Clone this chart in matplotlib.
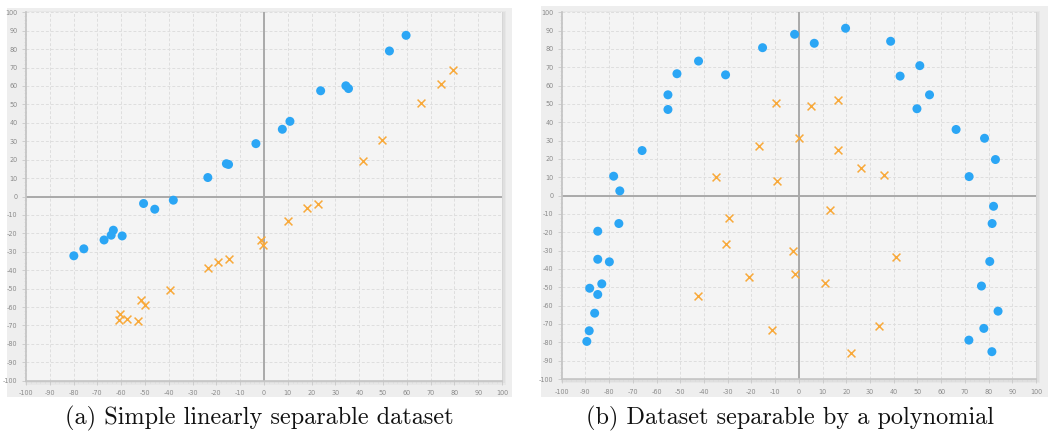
import matplotlib
matplotlib.use("Agg")
import matplotlib.pyplot as plt
from matplotlib.patches import Rectangle
import numpy as np

# ---------------- data ----------------
a_blue_x = [59.7, 52.7, 23.8, 34.4, 35.5, 7.7, 10.9, -3.4, -15.8, -14.9, -23.6, -38.1,
            -50.6, -45.9, -63.3, -64.2, -59.6, -67.2, -75.7, -79.9]
a_blue_y = [87.5, 79.0, 57.4, 60.1, 58.6, 36.5, 40.8, 28.7, 17.8, 17.4, 10.3, -2.0,
            -3.8, -6.9, -18.3, -21.0, -21.4, -23.6, -28.4, -32.2]
a_orange_x = [79.4, 74.3, 66.1, 49.5, 41.4, 22.6, 18.2, 10.0, -1.1, -0.3, -14.9, -19.5,
              -23.7, -39.6, -51.8, -50.2, -60.4, -61.1, -57.6, -53.0]
a_orange_y = [68.8, 61.2, 50.6, 30.5, 19.4, -4.0, -6.3, -13.4, -23.7, -26.6, -33.7, -35.7,
              -38.8, -50.9, -56.3, -58.7, -63.9, -67.0, -66.5, -67.8]

b_blue_x = [-78.1, -75.5, -66.1, -55.2, -55.2, -51.4, -42.3, -30.9, -15.3, -1.8, 6.5, 19.7,
            38.7, 42.7, 51.0, 49.8, 55.1, 66.3, 71.8, 78.3, 82.9,
            82.1, 81.5, 80.5, 77.0, 84.0, 78.0, 71.7, 81.4,
            -75.9, -84.8, -84.8, -79.9, -83.1, -88.2, -84.8, -86.1, -88.4, -89.4]
b_blue_y = [10.6, 2.6, 24.6, 55.0, 47.0, 66.5, 73.4, 65.9, 80.7, 88.0, 83.1, 91.3,
            84.2, 65.2, 70.9, 47.4, 55.0, 36.1, 10.4, 31.3, 19.7,
            -5.8, -15.2, -35.9, -49.3, -63.0, -72.4, -78.8, -85.1,
            -15.2, -19.4, -34.7, -36.1, -48.1, -50.5, -53.9, -64.1, -73.7, -79.5]
b_orange_x = [-9.8, 5.3, 16.6, -17.0, -0.1, 16.3, -35.1, -9.4, 26.3, 35.8,
              13.1, -29.4, -30.6, -2.4, 40.8, -1.8, -21.2, 11.1, -42.4, -11.2, 33.7, 22.2]
b_orange_y = [50.8, 48.8, 52.1, 27.3, 31.7, 25.0, 10.4, 8.0, 15.1, 11.5,
              -8.0, -12.3, -26.1, -30.1, -33.4, -42.8, -44.6, -47.9, -54.8, -73.3, -70.9, -86.0]

captions = ["(a) Simple linearly separable dataset", "(b) Dataset separable by a polynomial"]
tick_vals = list(range(-100, 101, 10))

BLUE = "#2ba6f5"
ORANGE = "#f8a93a"

W, H = 1048, 440
fig = plt.figure(figsize=(W / 100, H / 100), dpi=100)
fig.patch.set_facecolor("white")


def fx(px):
    return px / W


def fy(py):
    return 1 - py / H


# outer panels (px coords: x0, y0, x1, y1)
panels = [(7, 8, 512, 397), (541, 6, 1048, 397)]
for (x0, y0, x1, y1) in panels:
    fig.patches.append(Rectangle((fx(x0), fy(y1)), fx(x1 - x0), (y1 - y0) / H,
                                 transform=fig.transFigure, facecolor="#eeeeee",
                                 edgecolor="none", zorder=-3))

axes_px = [(26, 12.3, 502, 380.7), (561.7, 12.3, 1036, 379)]
datasets = [(a_blue_x, a_blue_y, a_orange_x, a_orange_y),
            (b_blue_x, b_blue_y, b_orange_x, b_orange_y)]
caption_x = [259, 790]

for i, ((x0, y0, x1, y1), (bx, by, ox, oy)) in enumerate(zip(axes_px, datasets)):
    # shadow
    for k, c in enumerate(["#d6d6d6", "#dfdfdf", "#e7e7e7"]):
        off = (k + 1) * 1.3
        fig.patches.append(Rectangle((fx(x0 - off * 0.3), fy(y1 + off)),
                                     fx(x1 - x0 + off * 1.3), (y1 - y0 + off * 1.3) / H,
                                     transform=fig.transFigure, facecolor=c,
                                     edgecolor="none", zorder=-1 - k * 0.1))
    ax = fig.add_axes([fx(x0), fy(y1), fx(x1 - x0), (y1 - y0) / H], zorder=2)
    ax.set_facecolor("#f4f4f4")
    ax.set_xlim(-100, 100)
    ax.set_ylim(-100, 100)
    ax.set_xticks(tick_vals)
    ax.set_yticks(tick_vals)
    ax.set_xticks(np.arange(-100, 101, 2), minor=True)
    ax.set_yticks(np.arange(-100, 101, 2), minor=True)
    ax.set_xticklabels([str(v) for v in tick_vals])
    ax.set_yticklabels([str(v) for v in tick_vals])
    ax.tick_params(axis="both", which="major", labelsize=4.7, labelcolor="#8a8a8a",
                   color="#c8c8c8", length=3, width=0.6)
    ax.tick_params(axis="x", which="major", pad=4)
    ax.tick_params(axis="y", which="major", pad=3)
    ax.tick_params(axis="both", which="minor", color="#d8d8d8", length=1.5, width=0.5)
    ax.grid(True, which="major", linestyle=(0, (3, 2)), color="#dedede", linewidth=0.7)
    for s in ["top", "right"]:
        ax.spines[s].set_visible(False)
    for s in ["left", "bottom"]:
        ax.spines[s].set_color("#c4c4c4")
        ax.spines[s].set_linewidth(1.2)
    ax.axhline(0, color="#a9a9a9", linewidth=1.4, zorder=1.5)
    ax.axvline(0, color="#a9a9a9", linewidth=1.4, zorder=1.5)
    ax.set_axisbelow(True)
    ax.scatter(bx, by, s=42, color=BLUE, edgecolors="none", zorder=3)
    ax.scatter(ox, oy, s=32, marker="x", color=ORANGE, linewidths=1.1, zorder=3)
    fig.text(fx(caption_x[i]), fy(418), captions[i], ha="center", va="center",
             fontsize=17.5, family="cmr10", color="#111111")

fig.savefig("out.png", dpi=100)
